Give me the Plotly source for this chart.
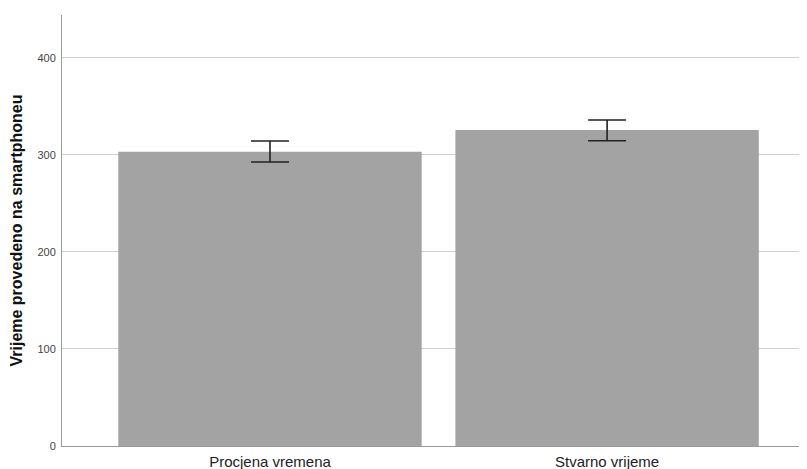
import plotly.graph_objects as go

categories = ["Procjena vremena", "Stvarno vrijeme"]
means = [303.4, 325.8]
err_plus = [11.0, 10.3]
err_minus = [10.6, 11.1]
y_ticks = [0, 100, 200, 300, 400]

fig = go.Figure()
fig.add_trace(go.Bar(
    x=categories, y=means,
    marker=dict(color="#a3a3a3", line=dict(width=0)),
    width=0.9,
    error_y=dict(type="data", symmetric=False, array=err_plus, arrayminus=err_minus,
                 color="#222222", thickness=1.6, width=19),
))

fig.update_layout(
    width=799, height=461,
    margin=dict(l=54, r=0, t=7, b=23),
    plot_bgcolor="white", paper_bgcolor="white",
    showlegend=False,
    font=dict(family="Liberation Sans, Arial, sans-serif", color="#222222"),
    xaxis=dict(
        range=[-0.617, 1.593],
        showgrid=False, showline=True, linecolor="#9a9a9a", linewidth=1,
        ticks="", tickfont=dict(size=15, color="#222222"), ticklabelstandoff=2,
        zeroline=False,
    ),
    yaxis=dict(
        range=[0, 444.3],
        tickvals=y_ticks, ticktext=[str(v) for v in y_ticks],
        showgrid=True, gridcolor="#cfcfcf", gridwidth=1,
        showline=True, linecolor="#9a9a9a", linewidth=1,
        ticks="outside", ticklen=3, tickcolor="white", tickfont=dict(size=11, color="#444444"),
        zeroline=False,
        title=dict(text="<b>Vrijeme provedeno na smartphoneu</b>",
                   font=dict(size=16, color="#111111"), standoff=12),
    ),
)

fig.write_html("out.html")
